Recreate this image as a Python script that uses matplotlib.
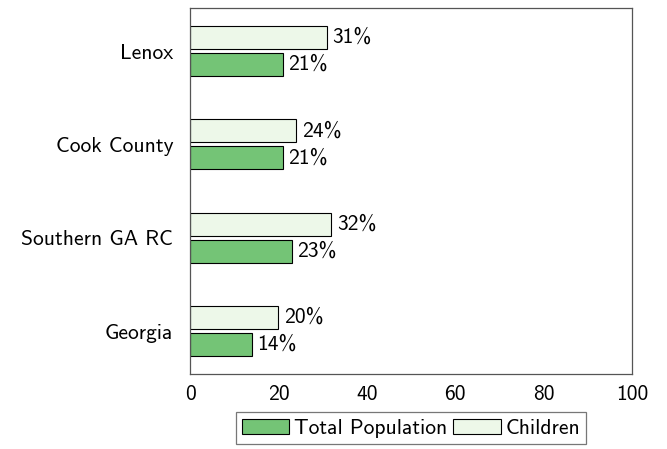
import matplotlib
matplotlib.use("Agg")
import matplotlib.pyplot as plt
import numpy as np

categories = ["Georgia", "Southern GA RC", "Cook County", "Lenox"]
total_pop = [14, 23, 21, 21]
children = [20, 32, 24, 31]
x_ticks = [0, 20, 40, 60, 80, 100]

plt.rcParams['font.family'] = ['cmss10', 'DejaVu Sans']
plt.rcParams['axes.unicode_minus'] = False

fig = plt.figure(figsize=(6.67, 4.49), dpi=100)
ax = fig.add_axes([0.2849, 0.167, 0.6626, 0.815])

y = np.arange(len(categories))
h = 0.245
off = 0.145
fs = 15.5
b1 = ax.barh(y - off, total_pop, height=h, color='#74c476', edgecolor='black',
             linewidth=0.8, label='Total Population')
b2 = ax.barh(y + off, children, height=h, color='#edf8e9', edgecolor='black',
             linewidth=0.8, label='Children')

for bars, vals in [(b1, total_pop), (b2, children)]:
    for bar, v in zip(bars, vals):
        ax.annotate(f"{v}%", (v, bar.get_y() + bar.get_height() / 2),
                    xytext=(4, 0), textcoords='offset points',
                    va='center', ha='left', fontsize=fs)

ax.set_xlim(0, 100)
ax.set_ylim(-0.46, 3.46)
ax.set_xticks(x_ticks)
ax.set_yticks(y)
ax.set_yticklabels(categories)
ax.tick_params(axis='y', length=0, labelsize=fs, pad=12)
ax.tick_params(axis='x', length=0, labelsize=fs, pad=8)
for s in ax.spines.values():
    s.set_color('#555555')
    s.set_linewidth(0.9)

leg = ax.legend(loc='upper center', bbox_to_anchor=(0.5, -0.105), ncol=2,
                fontsize=fs, frameon=True, fancybox=False, borderpad=0.3,
                handlelength=2.2, handleheight=0.7, handletextpad=0.2,
                columnspacing=0.3, borderaxespad=0)
leg.get_frame().set_edgecolor('#555555')
leg.get_frame().set_linewidth(0.9)

fig.savefig("out.png", dpi=100)
